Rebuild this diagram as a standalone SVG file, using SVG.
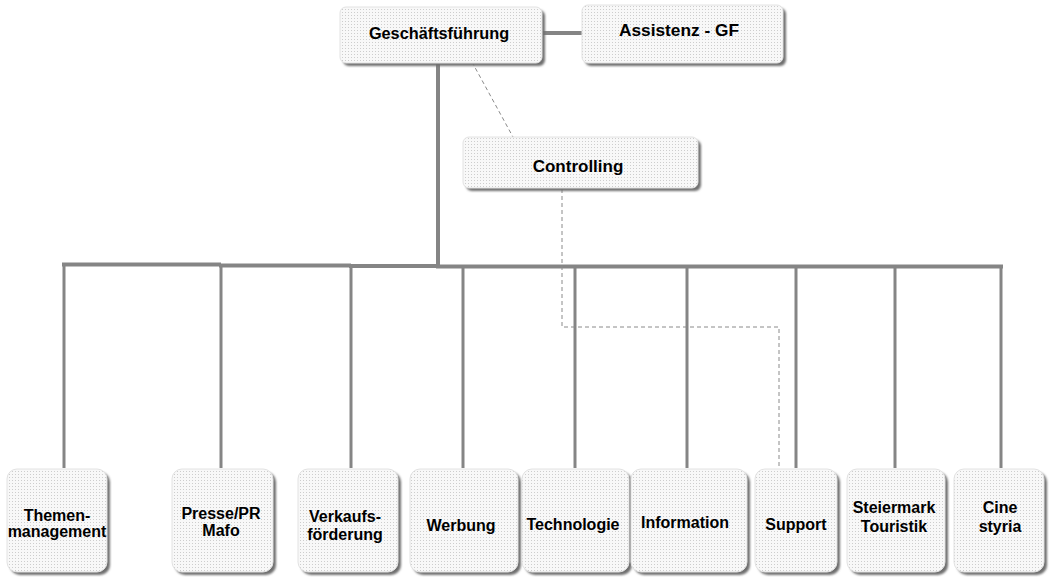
<svg xmlns="http://www.w3.org/2000/svg" width="1049" height="579" viewBox="0 0 1049 579">
<style>
.box{fill:url(#dots);stroke:#e2e2e2;stroke-width:1}
.sh{fill:#707070;filter:url(#blur)}
.t{font-family:"Liberation Sans",Arial,sans-serif;font-weight:bold;fill:#000;text-anchor:middle}
.t15{font-size:16px}
.t17{font-size:17px}
.solid{stroke:#858585;fill:none}
.dash{stroke:#8a8a8a;stroke-width:1;fill:none;stroke-dasharray:4 3}
</style>
<defs>
<pattern id="dots" width="3" height="3" patternUnits="userSpaceOnUse">
<rect width="3" height="3" fill="#f8f8f8"/>
<rect width="1" height="1" fill="#cdcdcd"/>
</pattern>
<filter id="blur" x="-10%" y="-10%" width="120%" height="120%">
<feGaussianBlur stdDeviation="0.9"/>
</filter>
</defs>
<rect width="1049" height="579" fill="#fff"/>

<g id="connectors">
<line class="solid" x1="542" y1="33" x2="582" y2="33" stroke-width="4"/>
<line class="solid" x1="438" y1="64" x2="438" y2="268" stroke-width="4"/>
<line class="solid" x1="62" y1="264.5" x2="221" y2="264.5" stroke-width="4"/>
<line class="solid" x1="219" y1="265.5" x2="351" y2="265.5" stroke-width="4"/>
<line class="solid" x1="349" y1="266" x2="440" y2="266" stroke-width="4"/>
<line class="solid" x1="436" y1="266.5" x2="1003" y2="266.5" stroke-width="4"/>
<g stroke-width="3">
<line class="solid" x1="64" y1="264" x2="64" y2="468"/>
<line class="solid" x1="221" y1="265" x2="221" y2="468"/>
<line class="solid" x1="351" y1="266" x2="351" y2="468"/>
<line class="solid" x1="463" y1="266" x2="463" y2="468"/>
<line class="solid" x1="575" y1="266" x2="575" y2="468"/>
<line class="solid" x1="687" y1="266" x2="687" y2="468"/>
<line class="solid" x1="796" y1="266" x2="796" y2="468"/>
<line class="solid" x1="895" y1="266" x2="895" y2="468"/>
<line class="solid" x1="1001" y1="266" x2="1001" y2="468"/>
</g>
<line class="dash" x1="472" y1="62" x2="513" y2="137"/>
<polyline class="dash" points="562,189 562,327 779,327 779,468"/>
</g>

<g id="n-gf">
<rect class="sh" x="343" y="10" width="202" height="56" rx="6"/>
<rect class="box" x="340" y="7" width="202" height="56" rx="6"/>
<text class="t" x="439" y="39" font-size="16.3">Geschäftsführung</text>
</g>
<g id="n-assistenz">
<rect class="sh" x="585" y="8" width="201" height="58" rx="6"/>
<rect class="box" x="582" y="5" width="201" height="58" rx="6"/>
<text class="t" x="679" y="36" font-size="17.3">Assistenz - GF</text>
</g>
<g id="n-controlling">
<rect class="sh" x="466" y="140" width="235" height="51" rx="6"/>
<rect class="box" x="463" y="137" width="235" height="51" rx="6"/>
<text class="t t17" x="578" y="172">Controlling</text>
</g>

<g id="n-themen">
<rect class="sh" x="10" y="472" width="100" height="103" rx="10"/>
<rect class="box" x="7" y="469" width="100" height="103" rx="10"/>
<text class="t t15" x="57" y="521">Themen-</text>
<text class="t t15" x="57" y="537">management</text>
</g>
<g id="n-presse">
<rect class="sh" x="175" y="472" width="101" height="103" rx="10"/>
<rect class="box" x="172" y="469" width="101" height="103" rx="10"/>
<text class="t t15" x="221" y="519">Presse/PR</text>
<text class="t t15" x="221" y="536">Mafo</text>
</g>
<g id="n-verkauf">
<rect class="sh" x="301" y="472" width="100" height="103" rx="10"/>
<rect class="box" x="298" y="469" width="100" height="103" rx="10"/>
<text class="t t15" x="345" y="522">Verkaufs-</text>
<text class="t t15" x="345" y="540">förderung</text>
</g>
<g id="n-werbung">
<rect class="sh" x="413" y="472" width="108" height="103" rx="10"/>
<rect class="box" x="410" y="469" width="108" height="103" rx="10"/>
<text class="t t15" x="461" y="531">Werbung</text>
</g>
<g id="n-technologie">
<rect class="sh" x="525" y="472" width="107" height="103" rx="10"/>
<rect class="box" x="522" y="469" width="107" height="103" rx="10"/>
<text class="t t15" x="573" y="530">Technologie</text>
</g>
<g id="n-information">
<rect class="sh" x="634" y="472" width="116" height="103" rx="10"/>
<rect class="box" x="631" y="469" width="116" height="103" rx="10"/>
<text class="t t15" x="685" y="528">Information</text>
</g>
<g id="n-support">
<rect class="sh" x="758" y="472" width="82" height="103" rx="10"/>
<rect class="box" x="755" y="469" width="82" height="103" rx="10"/>
<text class="t t15" x="796" y="530">Support</text>
</g>
<g id="n-steiermark">
<rect class="sh" x="850" y="472" width="98" height="103" rx="10"/>
<rect class="box" x="847" y="469" width="98" height="103" rx="10"/>
<text class="t t15" x="894" y="513">Steiermark</text>
<text class="t t15" x="894" y="532">Touristik</text>
</g>
<g id="n-cine">
<rect class="sh" x="957" y="472" width="90" height="103" rx="10"/>
<rect class="box" x="954" y="469" width="90" height="103" rx="10"/>
<text class="t t15" x="1000" y="513">Cine</text>
<text class="t t15" x="1000" y="532">styria</text>
</g>
</svg>
